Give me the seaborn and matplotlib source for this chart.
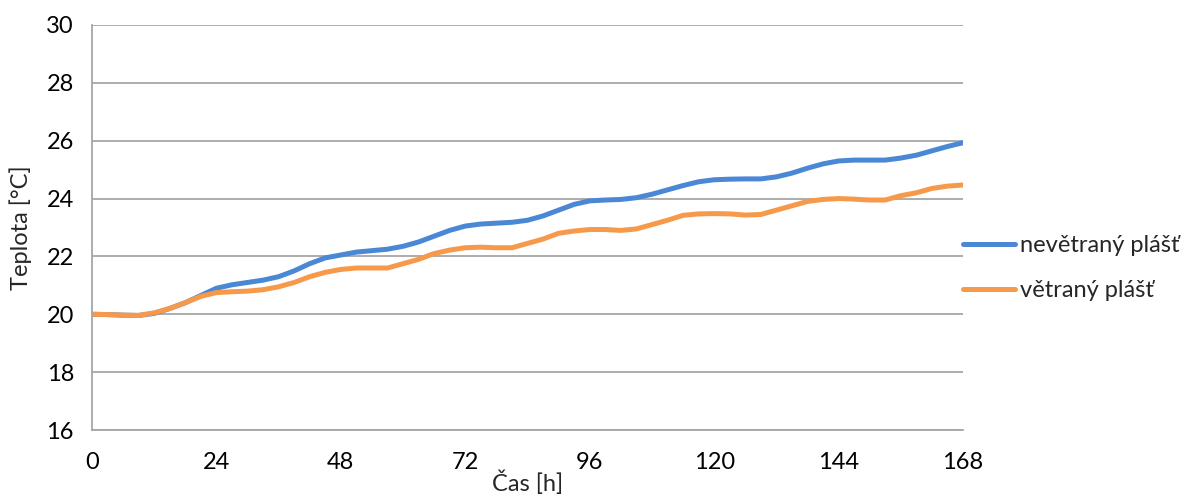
import pandas as pd
import matplotlib
matplotlib.use("Agg")
import matplotlib.pyplot as plt
import seaborn as sns

# time [h]
hours = list(range(0, 169, 3))

nevetrany = [20.0, 19.99, 19.97, 19.96, 20.03, 20.2, 20.4, 20.65, 20.9, 21.02,
             21.1, 21.18, 21.3, 21.5, 21.75, 21.95, 22.05, 22.15, 22.2, 22.25,
             22.35, 22.5, 22.7, 22.9, 23.05, 23.12, 23.15, 23.18, 23.25, 23.4,
             23.6, 23.8, 23.92, 23.95, 23.97, 24.03, 24.15, 24.3, 24.45, 24.58,
             24.65, 24.67, 24.68, 24.68, 24.75, 24.88, 25.05, 25.2, 25.3, 25.33,
             25.33, 25.33, 25.4, 25.5, 25.65, 25.8, 25.93]

vetrany = [20.0, 19.99, 19.97, 19.96, 20.05, 20.2, 20.4, 20.62, 20.75, 20.78,
           20.8, 20.85, 20.95, 21.1, 21.3, 21.45, 21.55, 21.6, 21.6, 21.6,
           21.75, 21.9, 22.1, 22.22, 22.3, 22.32, 22.3, 22.3, 22.45, 22.6,
           22.8, 22.88, 22.93, 22.93, 22.9, 22.95, 23.1, 23.25, 23.42, 23.47,
           23.48, 23.47, 23.43, 23.45, 23.6, 23.75, 23.9, 23.97, 24.0, 23.98,
           23.95, 23.95, 24.1, 24.2, 24.35, 24.43, 24.47]

labels = ["nevětraný plášť", "větraný plášť"]
colors = ["#4A88D6", "#F7994A"]

df = pd.concat([
    pd.DataFrame({"t": hours, "T": nevetrany, "s": labels[0]}),
    pd.DataFrame({"t": hours, "T": vetrany, "s": labels[1]}),
])

sns.set_style("white")
plt.rcParams["font.family"] = ["Lato", "DejaVu Sans"]

fig = plt.figure(figsize=(11.88, 4.97), dpi=100)
ax = fig.add_axes([0.0774, 0.1348, 0.7332, 0.8149])

sns.lineplot(data=df, x="t", y="T", hue="s", palette=colors, linewidth=3.6,
             ax=ax, legend=True, solid_joinstyle="round", solid_capstyle="round")

ax.set_xlim(0, 168)
ax.set_ylim(16, 30)
ax.set_xticks(range(0, 169, 24))
ax.set_yticks(range(16, 31, 2))
ax.grid(axis="y", color="#A6A6A6", linewidth=1.3)
ax.set_axisbelow(True)
for sp in ["top", "right"]:
    ax.spines[sp].set_visible(False)
for sp in ["left", "bottom"]:
    ax.spines[sp].set_color("#A6A6A6")
    ax.spines[sp].set_linewidth(1.3)
ax.tick_params(axis="both", direction="out", length=6, width=1.3,
               color="#A6A6A6", labelsize=17, labelcolor="black", pad=7)
ax.tick_params(axis="x", pad=10)

ax.set_xlabel("Čas [h]", fontsize=17, labelpad=-2)
ax.set_ylabel("Teplota [°C]", fontsize=17, labelpad=10)

ax.legend(loc="center left", bbox_to_anchor=(1.0, 0.40), frameon=False,
          fontsize=17, handlelength=2.2, handletextpad=0.2, labelspacing=1.0,
          borderaxespad=0, borderpad=0)

fig.savefig("out.png", dpi=100)
